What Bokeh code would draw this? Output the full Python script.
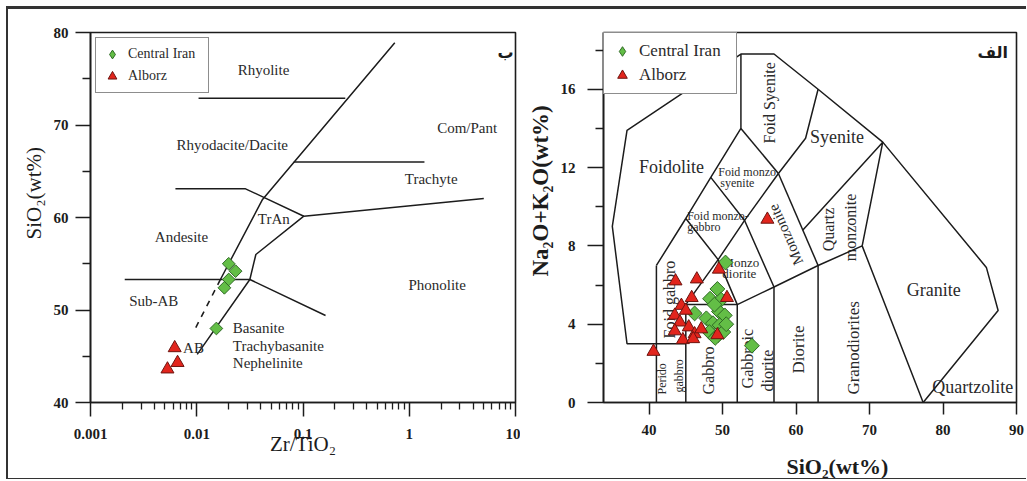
import math
from bokeh.plotting import figure
from bokeh.models import Range1d, FixedTicker, PrintfTickFormatter, Label, Legend, LegendItem, Title
from bokeh.layouts import row
from bokeh.embed import file_html
from bokeh.resources import INLINE

SERIF = "Liberation Serif"
ARABIC = "DejaVu Sans"
INK = "#1c1c1c"
TXT = "#2a2a2a"
GREEN, GREEN_EDGE = "#63be46", "#2f6a25"
RED, RED_EDGE = "#e2251d", "#6e1510"

# ---------------- Zr/TiO2 vs SiO2 (Winchester & Floyd) ----------------
wf_ci_zr = [0.0200, 0.0232, 0.0200, 0.0182, 0.0153]
wf_ci_si = [55.0, 54.2, 53.3, 52.4, 48.0]
wf_al_zr = [0.0062, 0.0066, 0.0053]
wf_al_si = [45.9, 44.3, 43.6]

# field boundaries
wf_rhy_x, wf_rhy_y = [0.0104, 0.25], [72.9, 72.9]
wf_main_x, wf_main_y = [0.731, 0.0416, 0.0167], [78.9, 61.95, 53.3]
wf_dash_x, wf_dash_y = [0.0167, 0.0093], [53.3, 47.6]
wf_low_x, wf_low_y = [0.0101, 0.0316, 0.036, 0.1018, 5.03], [45.2, 53.3, 56.0, 60.14, 62.05]
wf_tran_x, wf_tran_y = [0.0063, 0.0288, 0.1018], [63.1, 63.1, 60.14]
wf_trach_x, wf_trach_y = [0.0818, 1.39], [66.0, 66.0]
wf_subab_x, wf_subab_y = [0.0021, 0.0316, 0.163], [53.3, 53.3, 49.4]

wf_field_names = ["Rhyolite", "Rhyodacite/Dacite", "Com/Pant", "Trachyte", "TrAn",
                  "Andesite", "Phonolite", "Sub-AB", "AB"]
wf_field_x = [0.0425, 0.02157, 3.51, 1.609, 0.0531, 0.00719, 1.832, 0.00394, 0.00932]
wf_field_y = [75.92, 67.89, 69.70, 64.18, 59.86, 57.87, 52.68, 50.95, 45.91]
wf_stack_names = ["Basanite", "Trachybasanite", "Nephelinite"]
wf_stack_x = [0.02184, 0.02184, 0.02184]
wf_stack_y = [48.08, 46.16, 44.30]

wf_x_ticks = [0.001, 0.01, 0.1, 1, 10]
wf_y_ticks = [40, 50, 60, 70, 80]
wf_y_minor = [45, 55, 65, 75]

# ---------------- TAS, plutonic (Middlemost) ----------------
tas_ci_si = [50.4, 49.3, 48.3, 49.8, 46.2, 47.8, 49.5, 50.3, 48.7, 49.6, 48.2, 49.4, 50.1, 48.9, 54.0, 49.0, 50.5]
tas_ci_alk = [7.15, 5.80, 5.30, 5.25, 4.55, 4.30, 4.65, 4.45, 4.05, 3.95, 3.60, 3.45, 3.60, 5.00, 2.90, 3.30, 4.00]
tas_al_si = [56.1, 49.5, 46.5, 43.6, 50.6, 45.8, 44.4, 45.0, 43.5, 44.2, 43.5, 45.4, 46.2, 44.6, 47.1, 46.0, 49.3, 40.6]
tas_al_alk = [9.35, 6.80, 6.30, 6.20, 5.35, 5.35, 4.95, 4.70, 4.45, 4.10, 3.65, 3.85, 3.50, 3.20, 3.75, 3.25, 3.45, 2.60]

tas_outer_x = [77.3, 87.5, 85.9, 71.8, 63.0, 57.0, 52.5, 37.0, 35.0, 37.0, 45.0]
tas_outer_y = [0.0, 4.7, 6.9, 13.3, 16.0, 17.8, 17.8, 13.9, 9.0, 3.0, 3.0]
tas_lines_x = [
    [41, 41], [45, 45],
    [41, 45, 48.4, 52.5, 52.5],
    [45, 49.4, 53, 57.6],
    [45, 49.4, 52],
    [48.4, 53, 57],
    [52.5, 57.6],
    [57.6, 61.3, 63.0],
    [57.6, 63],
    [60.9, 71.8, 69],
    [45, 52, 57, 63, 69, 77.3],
    [52, 52], [57, 57], [63, 63],
]
tas_lines_y = [
    [0, 7], [0, 5],
    [7, 9.4, 11.5, 14, 17.8],
    [5, 7.3, 9.3, 11.7],
    [9.4, 7.3, 5],
    [11.5, 9.3, 5.9],
    [14, 11.7],
    [11.7, 13.5, 16.0],
    [11.7, 7],
    [8.8, 13.3, 8],
    [5, 5, 5.9, 7, 8, 0],
    [0, 5], [0, 5.9], [0, 7],
]

tas_x_ticks = [40, 50, 60, 70, 80, 90]
tas_y_ticks = [0, 4, 8, 12, 16]
tas_y_minor = [2, 6, 10, 14, 18]


def style_axes(p, xo, xmo, xs, yo, ymo, ys):
    for ax, to, mo, so in ((p.xaxis[0], xo, xmo, xs), (p.yaxis[0], yo, ymo, ys)):
        ax.axis_line_color = INK
        ax.axis_line_width = 1.6
        ax.major_tick_in = 0
        ax.minor_tick_in = 0
        ax.major_tick_out = to
        ax.minor_tick_out = mo
        ax.major_tick_line_color = INK
        ax.minor_tick_line_color = INK
        ax.major_tick_line_width = 1.5
        ax.minor_tick_line_width = 1.3
        ax.major_label_standoff = so
        ax.major_label_text_font = SERIF
        ax.major_label_text_font_style = "bold"
        ax.major_label_text_font_size = "15px"
        ax.major_label_text_color = INK
    p.grid.visible = False
    p.outline_line_color = INK
    p.outline_line_width = 1.6
    p.outline_line_alpha = 1.0


def add_label(p, x, y, text, size, angle=0.0, align="center", baseline="middle",
              bold=False, font=SERIF, level="annotation", color=TXT):
    p.add_layout(Label(x=x, y=y, text=text, text_font=font, text_font_size=f"{size}px",
                       text_font_style="bold" if bold else "normal", text_color=color,
                       text_align=align, text_baseline=baseline, angle=angle, level=level))


def add_title(p, side, text, size, bold, align, offset, standoff):
    p.add_layout(Title(text=text, align=align, offset=offset, standoff=standoff,
                       text_font=SERIF, text_font_size=f"{size}px",
                       text_font_style="bold" if bold else "normal", text_color=INK), side)


def add_points(p, ci_x, ci_y, al_x, al_y, sq_size):
    # upright diamond drawn first (fully covered by the rotated squares); it gives the key swatch
    key_ci = p.scatter(ci_x, ci_y, marker="diamond", size=sq_size,
                       fill_color=GREEN, line_color=GREEN_EDGE, line_width=1)
    p.scatter(ci_x, ci_y, marker="square", angle=math.pi / 4, size=sq_size,
              fill_color=GREEN, line_color=GREEN_EDGE, line_width=1)
    r_al = p.scatter(al_x, al_y, marker="triangle", size=13,
                     fill_color=RED, line_color=RED_EDGE, line_width=1)
    return key_ci, r_al


def add_legend(p, key_ci, r_al, glyph, margin, pad, font_size, label_width):
    leg = Legend(items=[LegendItem(label="Central Iran", renderers=[key_ci]),
                        LegendItem(label="Alborz", renderers=[r_al])],
                 location="top_left", margin=margin, padding=pad, spacing=0,
                 glyph_width=glyph, glyph_height=glyph, label_height=glyph,
                 label_width=label_width, label_standoff=5,
                 label_text_font=SERIF, label_text_font_size=f"{font_size}px",
                 label_text_color=TXT, border_line_color=INK, border_line_width=1.5,
                 background_fill_color="white", background_fill_alpha=1.0)
    p.add_layout(leg)


# ---------- left panel ----------
p1 = figure(width=512, height=469, x_axis_type="log",
            x_range=Range1d(0.001, 10), y_range=Range1d(40, 80),
            min_border_left=82, min_border_right=5, min_border_top=23, min_border_bottom=76,
            output_backend="svg", toolbar_location=None,
            background_fill_color="white", border_fill_color="white")
p1.xaxis.ticker = FixedTicker(ticks=wf_x_ticks,
                              minor_ticks=[k * 10.0 ** e for e in range(-3, 1) for k in range(2, 10)])
p1.xaxis.formatter = PrintfTickFormatter(format="%g")
p1.yaxis.ticker = FixedTicker(ticks=wf_y_ticks, minor_ticks=wf_y_minor)
style_axes(p1, 14, 7, 12, 15, 8, 7)

for xs, ys in ((wf_rhy_x, wf_rhy_y), (wf_main_x, wf_main_y), (wf_low_x, wf_low_y),
               (wf_tran_x, wf_tran_y), (wf_trach_x, wf_trach_y), (wf_subab_x, wf_subab_y)):
    p1.line(xs, ys, line_color=INK, line_width=1.5)
p1.line(wf_dash_x, wf_dash_y, line_color=INK, line_width=1.6, line_dash="6 6")

for name, x, y in zip(wf_field_names, wf_field_x, wf_field_y):
    add_label(p1, x, y, name, 15)
for name, x, y in zip(wf_stack_names, wf_stack_x, wf_stack_y):
    add_label(p1, x, y, name, 15, align="left")

k1_ci, r1_al = add_points(p1, wf_ci_zr, wf_ci_si, wf_al_zr, wf_al_si, 9)
add_legend(p1, k1_ci, r1_al, 22, 5, 5, 14, 75)

ax1 = p1.xaxis[0]
ax1.axis_label = "Zr/TiO₂"
ax1.axis_label_text_font = SERIF
ax1.axis_label_text_font_size = "21px"
ax1.axis_label_text_font_style = "normal"
ax1.axis_label_text_color = INK
try:
    ax1.axis_label_standoff = -10
except ValueError:
    ax1.axis_label_standoff = 0

add_title(p1, "left", "SiO₂(wt%)", 21, False, "left", 163, 10)
add_label(p1, 8.05, 77.8, "ب", 16, bold=True, font=ARABIC, color=INK)

# ---------- right panel ----------
p2 = figure(width=506, height=469, x_range=Range1d(33.8, 90), y_range=Range1d(0, 18.9),
            min_border_left=80, min_border_right=10, min_border_top=23, min_border_bottom=76,
            output_backend="svg", toolbar_location=None,
            background_fill_color="white", border_fill_color="white")
p2.xaxis.ticker = FixedTicker(ticks=tas_x_ticks, minor_ticks=[])
p2.yaxis.ticker = FixedTicker(ticks=tas_y_ticks, minor_ticks=tas_y_minor)
style_axes(p2, 12, 6, 10, 16, 8, 12)

p2.line(tas_outer_x, tas_outer_y, line_color=INK, line_width=1.5)
p2.multi_line(tas_lines_x, tas_lines_y, line_color=INK, line_width=1.5)

UL = "underlay"
for name, x, y in (("Foidolite", 43.05, 12.02), ("Syenite", 65.58, 13.55),
                   ("Granite", 78.73, 5.77), ("Quartzolite", 84.05, 0.78)):
    add_label(p2, x, y, name, 18, level=UL)
for name, x, y in (("Foid monzo", 49.43, 11.79), ("syenite", 49.7, 11.22),
                   ("Foid monzo-", 45.18, 9.55), ("gabbro", 45.18, 8.98)):
    add_label(p2, x, y, name, 12, align="left", level=UL)
for name, x, y in (("Monzo", 49.97, 7.17), ("diorite", 49.97, 6.59)):
    add_label(p2, x, y, name, 13, align="left", level=UL)
V = math.pi / 2
for name, x, y, s in (("Foid Syenite", 56.35, 15.31, 16), ("Foid gabbro", 42.84, 5.26, 16),
                      ("Quartz", 64.46, 8.84, 16), ("monzonite", 67.38, 8.94, 16),
                      ("Diorite", 60.4, 2.71, 17), ("Granodiorites", 67.84, 2.79, 17)):
    add_label(p2, x, y, name, s, angle=V, level=UL)
add_label(p2, 58.6, 8.58, "Monzonite", 15, angle=math.radians(114), level=UL)
for name, x, y, s in (("Gabbroic", 53.42, 0.72, 16), ("diorite", 56.12, 0.56, 16),
                      ("Gabbro", 48.15, 0.41, 16), ("Perido", 41.70, 0.41, 12),
                      ("gabbro", 44.09, 0.51, 12)):
    add_label(p2, x, y, name, s, angle=V, align="left", level=UL)

k2_ci, r2_al = add_points(p2, tas_ci_si, tas_ci_alk, tas_al_si, tas_al_alk, 10.5)
add_legend(p2, k2_ci, r2_al, 24, 0, 6, 17, 91)

ax2 = p2.xaxis[0]
ax2.axis_label = " "
ax2.axis_label_text_font_size = "4px"
ax2.axis_label_standoff = 6
add_title(p2, "left", "Na₂O+K₂O(wt%)", 23, True, "left", 126, 10)
add_title(p2, "below", "SiO₂(wt%)", 22, True, "left", 183, 0)
add_label(p2, 86.76, 17.86, "الف", 16, bold=True, font=ARABIC, color=INK)

# thin page frame round both panels (open on the right)
layout = row(p1, p2, styles={"margin-left": "6px", "margin-top": "7px",
                             "box-sizing": "content-box",
                             "border-top": "2px solid #333",
                             "border-left": "2px solid #333",
                             "border-bottom": "1.5px solid #333",
                             "box-shadow": "0 -1px 0 0 #333"})

open("out.html", "w").write(file_html(layout, INLINE))
